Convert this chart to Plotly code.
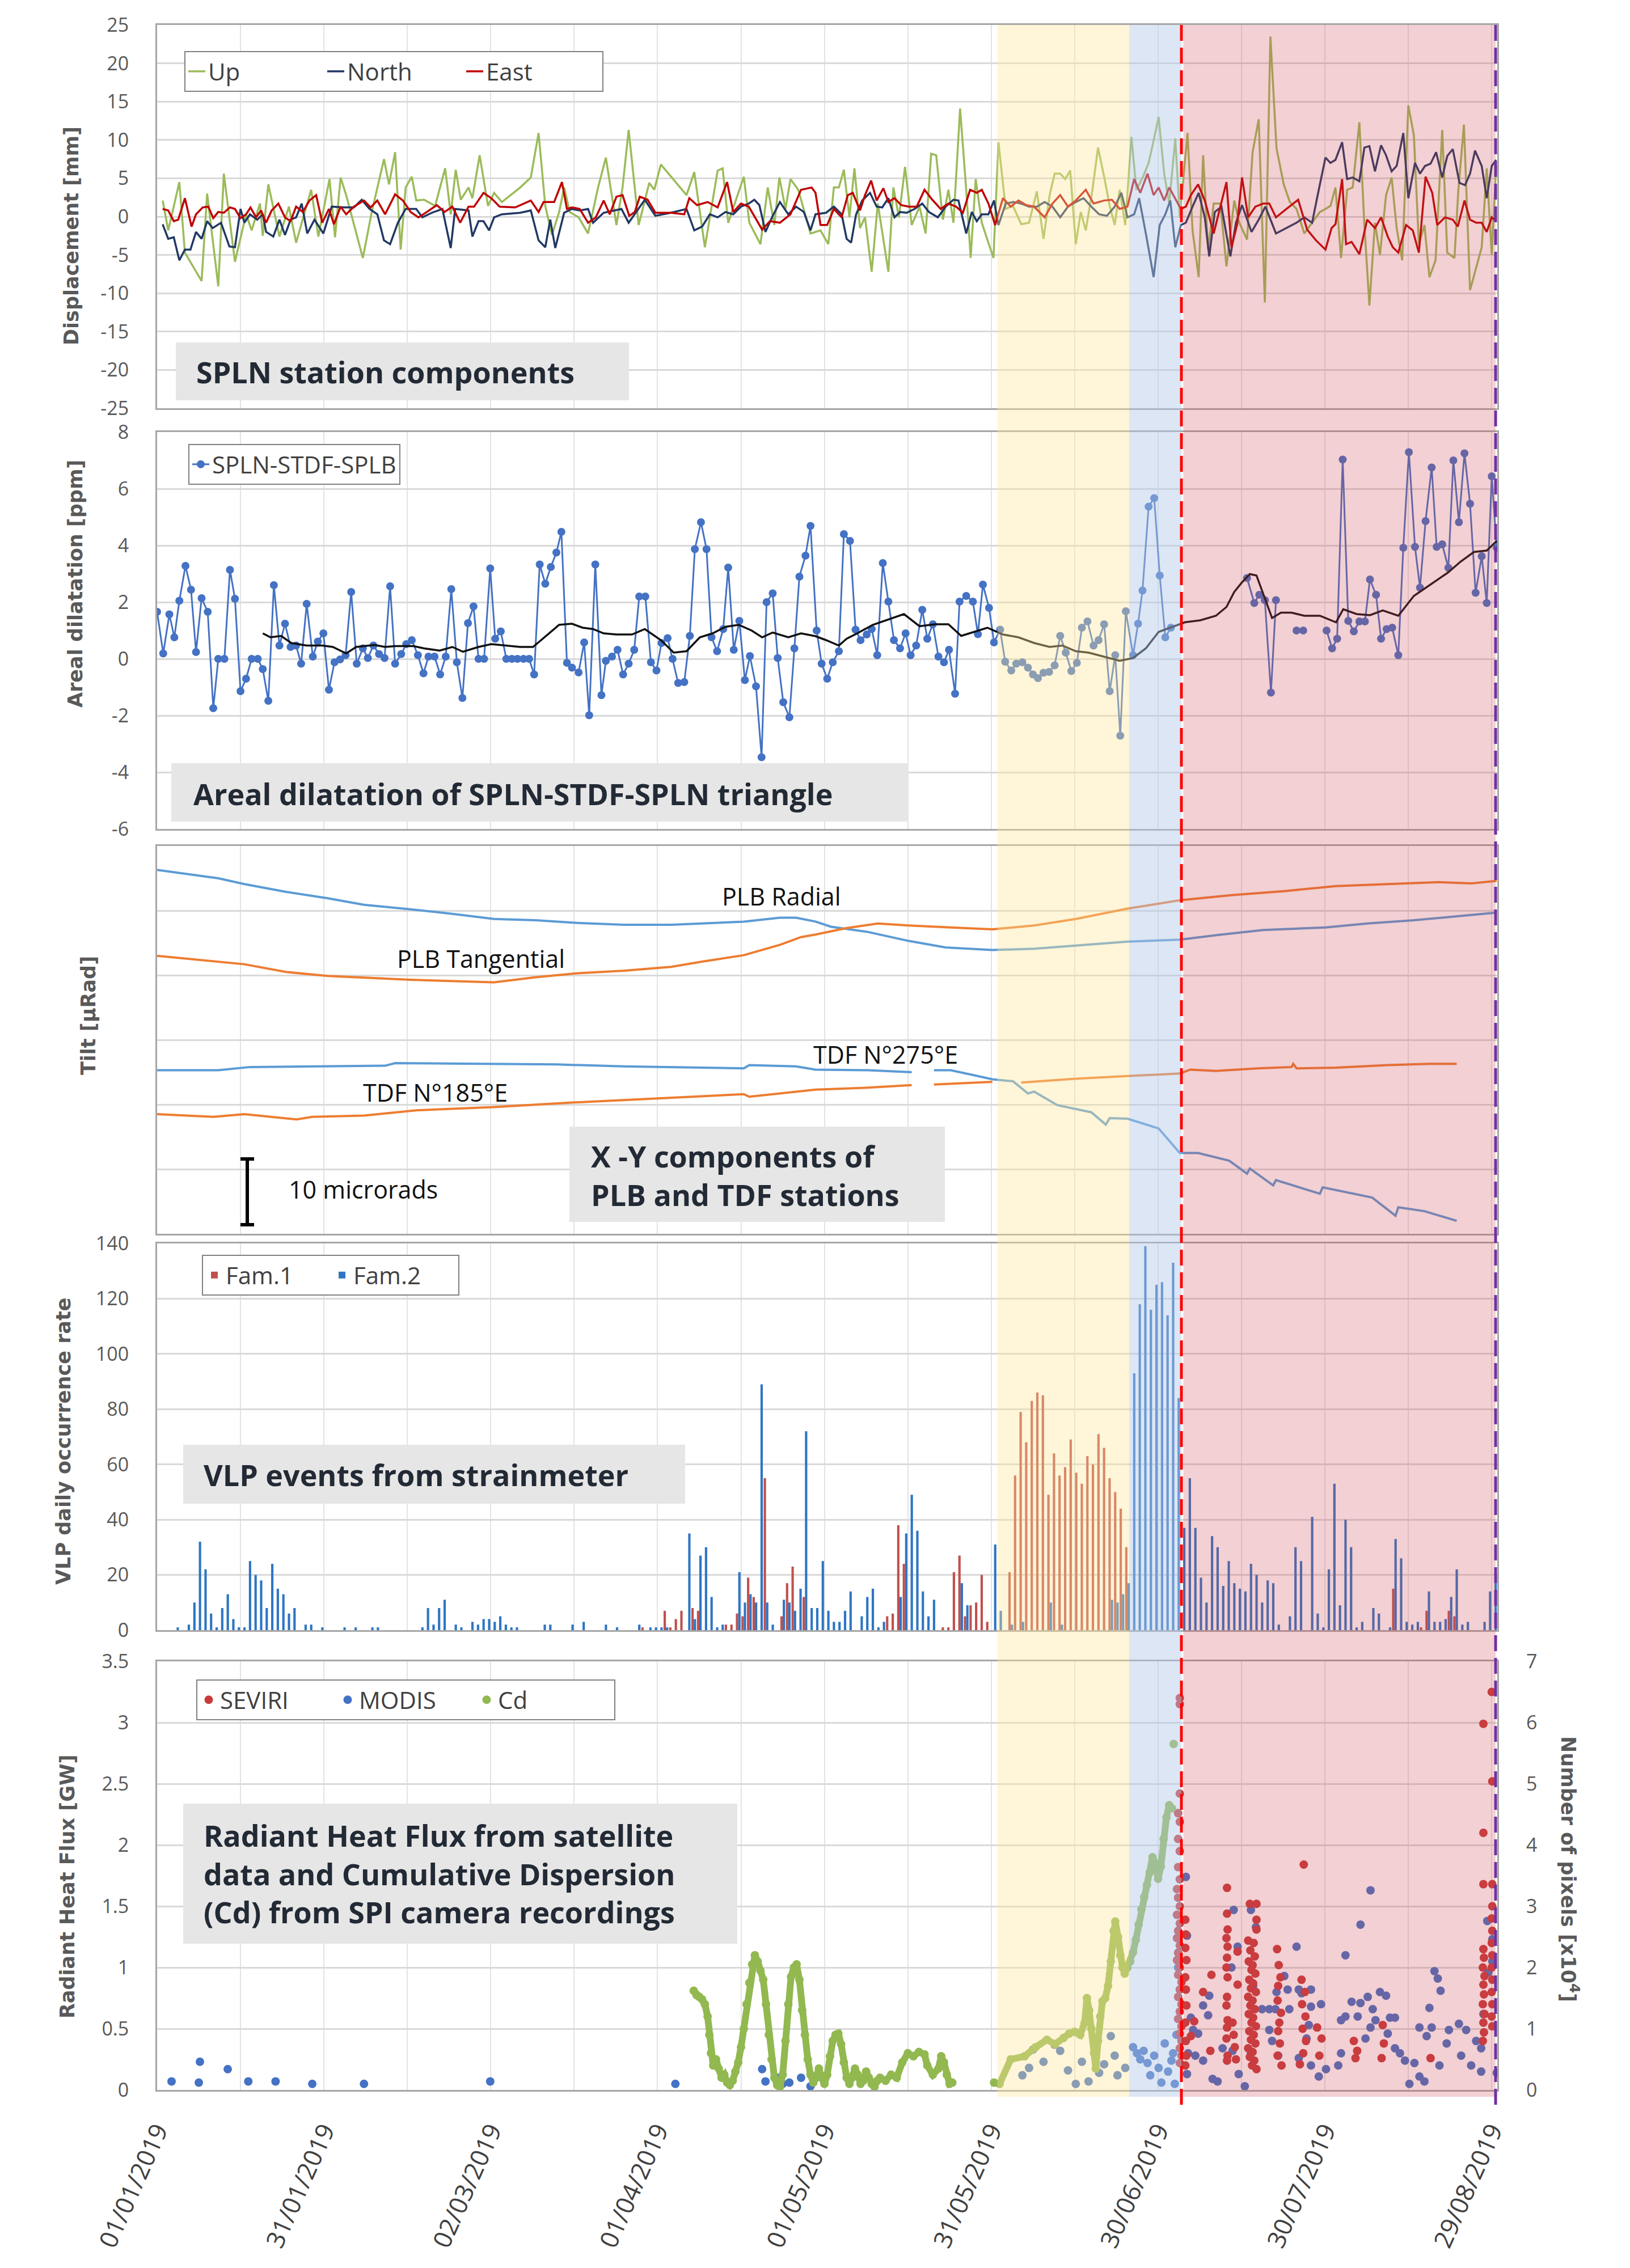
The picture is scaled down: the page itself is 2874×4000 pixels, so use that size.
import pandas as pd
import plotly.graph_objects as go
from plotly.subplots import make_subplots

W, H = 2874, 4000
BASE = pd.Timestamp("2019-01-01")

# ---------------- data (day offsets from 01/01/2019) ----------------
TICK_DAYS = [0, 30, 60, 90, 120, 150, 180, 210, 240]
TICK_LABELS = ["01/01/2019", "31/01/2019", "02/03/2019", "01/04/2019", "01/05/2019",
               "31/05/2019", "30/06/2019", "30/07/2019", "29/08/2019"]
GRID15_DAYS = [15, 45, 75, 105, 135, 165, 195, 225]

# event periods
YELLOW_START, BLUE_START, RED_LINE, RED_START, PURPLE_LINE = 151.1, 174.8, 184.2, 184.55, 240.7

DISP_TICKS = [-25, -20, -15, -10, -5, 0, 5, 10, 15, 20, 25]
DIL_TICKS = [-6, -4, -2, 0, 2, 4, 6, 8]
TILT_GRID = [0, 10, 20, 30, 40, 50, 60]
VLP_TICKS = [0, 20, 40, 60, 80, 100, 120, 140]
RHF_TICKS = [0, 0.5, 1, 1.5, 2, 2.5, 3, 3.5]
RHF_LABELS = ["0", "0.5", "1", "1.5", "2", "2.5", "3", "3.5"]
PIX_TICKS = [0, 1, 2, 3, 4, 5, 6, 7]

UP = [(1,2.1),(2,-1.8),(4,4.5),(5,-4.7),(8,-8.4),(9,3.0),(11,-9.1),(12,5.6),(14,-5.9),(16,0.3),(17,-1.8),(18.5,1.7),(19,-2.5),(20,4.2),(22,-2.6),(23.7,1.3),(25,-3.4),(27.7,3.5),(29,-2.6),(31,4.9),(32,-2.7),(33,5.1),(34,2.8),(37,-5.4),(38.6,0.6),(40.8,7.5),(41.7,4.2),(42.8,8.4),(43.8,-4.3),(44.7,3.8),(45.8,5.2),(46.6,2.1),(48,2.2),(50,1.4),(51.8,6.3),(52.8,0.3),(53.7,6.1),(54.6,2.2),(56,3.8),(56.7,2.4),(58,8.0),(59.5,1.4),(60.6,3.1),(62,1.9),(65.3,3.8),(67.2,5.1),(68.6,10.9),(69.8,1.4),(71,-2.4),(72.3,0.6),(73.2,3.8),(74.2,0.6),(75.8,-0.1),(77.5,-2.2),(79.3,3.8),(80.7,7.7),(82.6,-1.1),(83.7,3.8),(84.8,11.3),(85.7,4.9),(86.6,-1.1),(88.5,4.4),(89.4,3.5),(90.6,6.8),(95.2,2.8),(96.6,5.8),(98.5,-4.0),(100.8,6.0),(101.7,6.3),(102.7,-0.8),(105.5,5.2),(106.5,-0.8),(108.5,-3.6),(109.8,3.8),(111,-1.1),(111.9,5.1),(113,1.0),(113.9,4.9),(115.3,3.5),(117.5,-2.2),(119.3,-1.8),(120.7,-3.6),(121.7,3.8),(122.6,3.8),(123.5,6.1),(124.5,-0.1),(125.4,6.3),(126.4,-1.5),(127.3,-0.1),(128.5,-7.2),(129.6,1.7),(131.5,-7.2),(132.4,3.8),(133.4,-0.1),(134.5,6.5),(135.7,-1.1),(137.1,1.3),(138.2,-2.2),(139.2,8.2),(140.1,8.0),(141.3,-0.4),(142.3,3.5),(143.2,-0.8),(144.4,14.1),(145.5,3.5),(146.3,-5.4),(147.2,4.9),(148.3,-0.8),(150.4,-5.4),(151.3,9.7),(152.6,1.0),(153.9,1.4),(155.4,-1.0),(156.8,-0.8),(158.2,3.3),(159.4,-2.9),(160.5,2.8),(161.4,5.6),(162.4,5.6),(163.3,4.9),(164.2,6.0),(165.2,-3.6),(166.1,0.6),(167,-1.8),(168.2,3.5),(169.2,9.0),(170.3,5.2),(171.3,1.4),(172.2,-1.1),(173.1,3.5),(174.1,-1.1),(175.2,10.4),(176.1,3.5),(177.3,5.2),(178.3,7.0),(179.2,9.9),(180.1,13.0),(181.1,5.6),(182,1.7),(183.1,10.2),(183.9,-0.1),(185.3,10.9),(186.2,-1.8),(187.3,-7.9),(188.1,8.0),(189,-4.3),(190,1.7),(191.2,1.7),(192.3,-6.5),(193.7,2.1),(194.6,-0.8),(196,-3.0),(197,8.4),(198.1,12.7),(199.2,-11.2),(200.2,23.5),(201.3,8.9),(202.6,4.2),(203.7,1.9),(204.9,1.0),(206.3,-2.2),(207.7,-0.8),(209.1,0.6),(210.1,1.0),(211,1.4),(211.9,3.8),(212.9,-5.4),(214,3.5),(215,3.8),(216.2,12.3),(217.1,-1.1),(218,-11.6),(219,-0.8),(219.9,-5.0),(221,2.8),(222,5.1),(222.9,-1.5),(223.9,-5.7),(225,14.5),(226,10.6),(226.9,-3.6),(227.9,-1.1),(228.8,-7.9),(229.9,-5.7),(231.1,11.3),(232,-4.7),(233.3,-5.4),(234,3.5),(235,12.0),(236.1,-9.6),(237,-7.2),(238.2,-4.0),(239.1,6.3),(240,-5.0),(240.8,6.6)]

NORTH = [(1,-1.0),(2,-2.9),(3,-2.7),(4,-5.7),(5,-4.3),(6,-4.3),(7,-2.0),(8,-2.9),(9,-0.6),(10,-1.5),(11.5,-0.8),(13,-3.9),(14,-4.0),(15,1.0),(15.7,-0.8),(16.7,0.3),(18,-0.4),(19,0.3),(19.6,-2.0),(20.9,-2.6),(22,-0.4),(23,-2.4),(24,-0.4),(25,-0.1),(26,1.7),(27,-2.2),(28.3,-0.4),(29.9,-2.2),(31.4,1.3),(33.5,1.2),(35.4,1.2),(36.8,2.2),(38.2,1.0),(39.6,0.3),(40.8,-3.1),(41.9,-3.6),(43.3,-0.8),(44.7,1.0),(46.6,1.0),(47.7,-0.1),(49.4,0.5),(51.3,1.0),(52.8,-4.1),(53.6,1.0),(56,0.8),(56.7,-2.6),(57.8,-0.6),(58.7,-0.6),(59.7,-1.8),(60.6,-0.1),(62,0.3),(65.3,0.5),(67.2,0.8),(68.6,-3.1),(69.8,-4.0),(70.7,-0.4),(71.6,-4.1),(73.2,0.5),(74.6,1.0),(76,0.8),(77.5,1.0),(78.4,-0.8),(80.3,0.5),(82.1,0.8),(83.5,1.0),(84.8,-0.8),(85.9,0.3),(87.7,2.2),(89.6,0.1),(92.4,0.5),(95.2,1.0),(96.6,-1.8),(98,-1.3),(99.4,0.3),(100.8,-0.1),(102.2,0.6),(103.6,0.3),(105,1.3),(106.4,1.7),(107.4,2.2),(108.3,1.5),(109.4,-2.0),(110.7,0.1),(112,1.9),(113.5,0.3),(114.9,1.3),(116.3,0.6),(117.5,-1.8),(118.4,0.3),(120.3,0.5),(121.7,1.3),(123.1,0.3),(124,-2.9),(124.8,-3.4),(125.7,0.3),(126.8,2.1),(128.2,3.1),(129.4,1.3),(130.4,1.2),(131.5,2.4),(132.6,-0.1),(133.6,0.6),(134.8,0.5),(136.2,1.0),(137.6,1.7),(138.8,0.6),(140.4,-0.1),(141.8,1.3),(143.2,2.2),(144.1,2.1),(145.5,-2.2),(146.5,0.6),(147.4,-0.6),(148.3,0.3),(149.5,0.3),(150.5,2.1),(151.3,-1.1),(152.6,1.7),(154,1.9),(155.4,1.7),(156.8,1.3),(158.2,1.3),(159.6,1.9),(161,1.3),(162.4,-0.1),(163.8,1.3),(165.2,1.9),(166.6,2.4),(168,1.3),(169.4,0.3),(170.8,0.1),(172.2,1.3),(173.4,3.1),(174.5,-0.1),(175.7,0.3),(176.6,2.4),(177.8,-2.2),(179.2,-7.9),(180.3,-1.1),(181.3,0.3),(182.2,2.1),(183.1,-4.0),(184.1,-1.1),(185,-0.8),(186.2,1.3),(187.3,3.1),(188.4,-0.1),(189.2,-5.2),(190.2,0.6),(191.4,1.3),(193,-5.2),(194,-0.8),(195.1,1.5),(196.8,-2.0),(198.1,-0.4),(199.3,1.3),(201.2,-2.2),(203.1,-1.5),(204.9,-0.8),(206.3,-0.1),(207.7,-0.8),(208.7,2.8),(210.1,7.7),(211,7.0),(211.9,7.4),(213.1,9.7),(214,4.9),(215,5.1),(216.2,4.6),(217.1,9.0),(218,9.2),(219,5.9),(220.1,9.3),(221,8.0),(222,5.9),(222.9,6.6),(224.1,10.9),(225,2.4),(226.2,7.0),(227.1,5.6),(228,6.6),(229,6.9),(230,8.4),(231.1,5.1),(232,7.9),(233,8.8),(234.2,4.4),(235.2,4.1),(236.1,5.6),(237,8.6),(238.2,6.6),(239.1,2.4),(240,6.6),(240.8,7.4)]

EAST = [(1,1.0),(2,0.8),(3,-0.6),(3.8,-0.4),(5,2.4),(6.2,-1.3),(7,0.3),(8.2,1.2),(9.2,1.3),(10.1,-0.2),(11,0.6),(12,0.5),(13.1,1.2),(14,1.0),(15,-0.2),(16,0.3),(16.8,1.2),(17.8,-0.1),(18.7,0.8),(19.6,-0.8),(20.6,0.8),(21.8,1.7),(23,-0.1),(24,-0.6),(25,1.3),(26.2,0.6),(27.4,2.1),(28.6,2.8),(29.7,-0.8),(30.9,1.0),(31.8,-1.0),(33,1.3),(34,0.3),(35.4,1.3),(37.2,2.1),(38.4,1.2),(39.6,2.1),(41,0.3),(42.8,2.9),(44.2,2.1),(45.6,0.6),(47,-0.1),(48.5,0.6),(50.3,1.5),(51.7,0.6),(53.1,1.3),(54.5,-0.8),(56,1.3),(57,1.3),(58.7,3.1),(60.1,2.4),(61.6,1.3),(64.4,1.2),(67.2,2.1),(68.6,0.6),(69.5,1.9),(71.4,1.9),(72.8,4.5),(73.7,1.0),(74.6,1.2),(76,1.0),(77.5,-0.8),(78.9,-0.1),(80.3,2.1),(81.4,0.3),(82.6,2.6),(83.7,2.8),(84.9,0.1),(85.9,0.6),(86.8,2.6),(88.2,2.2),(89.6,0.5),(92.4,0.5),(94.8,0.3),(95.7,2.4),(97.1,1.5),(99,1.9),(100.8,1.2),(102.5,4.5),(103.6,0.6),(105,1.7),(106.4,1.3),(108.8,-1.7),(110.2,-0.6),(112,-0.8),(113.9,0.3),(115.8,3.5),(117.7,3.8),(118.4,3.1),(119.3,-1.1),(120.5,-1.1),(121.7,1.0),(123.1,-0.1),(124.2,2.8),(125.1,3.1),(126.4,0.8),(127.3,2.8),(128.4,4.7),(129.4,2.1),(130.6,3.7),(131.5,1.9),(132.6,2.4),(133.8,1.5),(135.2,1.3),(136.6,1.3),(138,3.5),(139.4,2.2),(140.9,1.0),(142.3,1.7),(143.7,1.3),(144.9,0.5),(146.2,3.5),(147.4,3.1),(148.3,3.5),(149.5,1.7),(150.7,-1.1),(152.1,2.4),(153.5,1.3),(154.9,2.1),(156.3,1.5),(157.7,1.3),(159.6,-0.1),(161,1.7),(162.4,2.8),(163.8,1.3),(165.2,2.1),(167,3.5),(168.4,1.7),(170.3,2.1),(171.7,2.2),(173.1,1.0),(174.5,1.3),(175.7,4.9),(176.8,3.1),(178.1,5.6),(179.2,2.8),(180.1,3.8),(181.1,2.1),(182,3.8),(183.1,2.4),(184.1,1.0),(185,1.3),(185.9,2.8),(187.2,4.2),(188.4,2.1),(190,-2.2),(191.2,1.3),(192.3,4.5),(193.2,-4.0),(194.2,-1.1),(195.1,5.1),(196.2,-0.1),(197.5,1.3),(198.9,1.7),(200,1.7),(201.2,-0.1),(203.1,1.0),(205.2,2.2),(206.8,-1.7),(208.4,-3.1),(210.1,-4.3),(211.2,-1.5),(211.9,-1.0),(213.1,4.9),(213.8,-3.6),(214.8,-3.3),(216.2,-4.9),(217.6,-0.4),(219,-1.5),(220.1,-0.1),(221.3,-2.6),(222.2,-4.0),(223.2,-4.7),(224.6,-1.1),(225.8,-1.8),(226.9,-4.7),(228.1,5.2),(229.3,3.1),(230.2,-1.1),(231.6,-0.1),(233,-0.4),(233.9,-1.3),(235.1,2.1),(236.1,-0.4),(237.2,-0.8),(238.2,-0.8),(239.1,-2.0),(240,-0.1),(240.8,-0.6)]

DIL = [(0,1.66),(1.1,0.19),(2.2,1.57),(3.1,0.76),(4,2.05),(5.1,3.28),(6.1,2.44),(7,0.24),(8,2.14),(9.1,1.66),(10.1,-1.74),(11,0),(12.1,0),(13.1,3.14),(14,2.12),(15,-1.14),(16,-0.7),(17,0),(18.1,0),(19,-0.36),(20,-1.48),(21,2.6),(22,0.47),(23,1.24),(24,0.42),(25,0.47),(25.9,-0.17),(26.9,1.94),(28,0.08),(28.9,0.61),(29.9,0.9),(30.9,-1.09),(31.9,-0.12),(32.9,-0.02),(33.9,0.13),(34.9,2.36),(35.9,-0.17),(37,0.37),(37.9,0.03),(38.9,0.47),(39.9,0.17),(40.9,0.03),(41.9,2.56),(42.8,-0.17),(43.9,0.17),(44.8,0.52),(45.8,0.66),(46.9,0.13),(47.9,-0.51),(48.8,0.08),(49.9,0.08),(50.9,-0.55),(51.9,0.08),(52.9,2.46),(53.9,-0.12),(54.9,-1.38),(55.9,1.26),(56.9,1.85),(57.8,0),(58.8,0),(59.9,3.19),(60.8,0.71),(61.8,0.97),(62.8,0),(63.8,0),(64.8,0),(65.9,0),(66.9,0),(67.8,-0.55),(68.8,3.33),(69.8,2.65),(70.8,3.24),(71.8,3.75),(72.7,4.48),(73.7,-0.14),(74.6,-0.31),(75.8,-0.48),(76.8,0.58),(77.7,-1.99),(78.8,3.33),(79.9,-1.28),(80.7,-0.07),(81.8,0.08),(82.8,0.32),(83.8,-0.55),(84.8,-0.17),(85.8,0.32),(86.7,2.2),(87.8,2.2),(88.8,-0.12),(89.8,-0.41),(90.7,0.56),(91.8,0.73),(92.7,0),(93.7,-0.85),(94.8,-0.82),(95.8,0.81),(96.7,3.87),(97.8,4.82),(98.8,3.87),(99.7,0.76),(100.7,0.27),(101.8,1.05),(102.7,3.22),(103.7,0.32),(104.7,1.34),(105.7,-0.75),(106.6,0.1),(107.7,-0.97),(108.7,-3.47),(109.6,2.0),(110.7,2.31),(111.6,0.03),(112.6,-1.53),(113.7,-2.06),(114.6,0.37),(115.5,2.9),(116.6,3.64),(117.5,4.69),(118.6,1.0),(119.5,-0.17),(120.5,-0.7),(121.5,-0.12),(122.6,0.27),(123.5,4.4),(124.6,4.16),(125.6,1.03),(126.5,0.66),(127.6,0.86),(128.5,1.05),(129.5,0.13),(130.5,3.38),(131.5,2.02),(132.5,0.66),(133.6,0.37),(134.6,0.9),(135.5,0.13),(136.5,0.47),(137.6,1.73),(138.5,0.71),(139.5,1.22),(140.5,0.08),(141.5,-0.12),(142.4,0.32),(143.5,-1.23),(144.3,2.02),(145.5,2.22),(146.7,2.02),(147.6,0.87),(148.5,2.62),(149.6,1.8),(150.5,0.58),(151.6,1.03),(152.5,-0.1),(153.6,-0.41),(154.5,-0.17),(155.6,-0.12),(156.6,-0.31),(157.5,-0.55),(158.4,-0.68),(159.4,-0.49),(160.4,-0.46),(161.4,-0.23),(162.4,0.81),(163.4,0.22),(164.4,-0.43),(165.4,-0.14),(166.3,1.1),(167.3,1.32),(168.4,0.47),(169.3,0.66),(170.3,1.22),(171.3,-1.14),(172.3,0.13),(173.2,-2.71),(174.2,1.68),(175.5,0.13),(176.4,1.24),(177.2,2.41),(178.3,5.37),(179.3,5.67),(180.3,2.94),(181.3,0.76),(182.3,1.1),(189,None),(196,2.85),(197.3,1.97),(198.2,2.26),(199.2,2.07),(200.3,-1.19),(201.2,2.07),(203,None),(204.9,1.0),(206.1,1.0),(208,None),(210.3,1.0),(211.3,0.37),(212.2,0.71),(213.2,7.03),(214.2,1.34),(215.2,0.97),(216.2,1.32),(217.2,1.32),(218.1,2.8),(219.2,2.26),(220.1,0.71),(221.1,1.05),(222.1,1.1),(223.2,0.13),(224.1,3.92),(225.1,7.29),(226.2,3.95),(227.1,2.51),(228.1,4.86),(229.2,6.75),(230.1,3.95),(231.1,4.04),(232.2,3.21),(233.1,7.0),(234.1,4.82),(235.1,7.25),(236.1,5.47),(237.1,2.33),(238.2,3.62),(239.1,1.97),(240,6.44),(240.9,3.92)]

DIL_MA = [(19,0.9),(20.4,0.76),(22.3,0.81),(24.1,0.56),(26.9,0.47),(29.7,0.47),(31.6,0.42),(34,0.19),(35.8,0.42),(39.1,0.49),(41,0.42),(42.8,0.45),(46.1,0.45),(48,0.37),(50.8,0.29),(53.1,0.42),(55,0.25),(57.8,0.42),(60.1,0.52),(62.9,0.47),(65.3,0.42),(67.6,0.42),(70,0.81),(72.3,1.2),(74.6,1.24),(76.5,1.1),(78.4,1.05),(80.3,0.9),(82.6,0.86),(85.4,0.86),(87.7,1.05),(90.6,0.66),(92.9,0.22),(95.2,0.27),(97.6,0.76),(99.9,0.9),(102.2,1.13),(104.6,1.2),(106.9,1.0),(108.8,0.76),(110.7,0.93),(113.5,0.76),(115.8,0.9),(118.4,0.8),(120.3,0.66),(122.6,0.47),(124,0.71),(125.9,0.9),(128.7,1.2),(131.5,1.39),(134.3,1.58),(137.1,1.15),(139.9,1.22),(142.3,1.22),(144.6,0.81),(146.9,0.95),(149.3,1.1),(152.1,0.86),(154.9,0.76),(157.7,0.56),(160.5,0.42),(162.8,0.47),(165.2,0.27),(167.5,0.22),(170.3,0.08),(173.1,-0.07),(175.5,0.03),(177.8,0.37),(180.1,0.95),(182.5,1.13),(184.8,1.29),(187.6,1.36),(190.4,1.52),(192.3,1.83),(193.7,2.36),(195.1,2.7),(196.5,2.99),(197.7,2.94),(199,2.22),(200.5,1.44),(202.1,1.63),(204,1.63),(206.3,1.52),(209.1,1.52),(212,1.29),(213.3,1.75),(215.7,1.58),(218.1,1.54),(220.4,1.71),(223.2,1.52),(226,2.22),(228.8,2.6),(232.1,3.04),(234.4,3.43),(236.8,3.77),(239.1,3.82),(240.9,4.16)]

# tilt (relative microradians, 10 per grid step)
PLB_RADIAL = [(0,56.3),(11,55.0),(15.7,54.1),(23.2,52.9),(30.7,51.9),(37.2,50.9),(45.6,50.2),(53.1,49.5),(60.6,48.7),(68.1,48.5),(75.6,48.1),(84,47.8),(92.4,47.8),(98,48.0),(105.5,48.3),(112,48.9),(114.9,48.9),(118.4,48.3),(121.2,47.5),(127.8,46.7),(135.2,45.3),(141.8,44.3),(150.2,43.9),(157.7,44.1),(165.2,44.6),(174.5,45.2),(183.9,45.5),(191.4,46.3),(198.9,47.0),(210.1,47.4),(217.6,48.0),(226,48.5),(233.5,49.1),(240.9,49.7)]
PLB_TANGENTIAL = [(0,43.0),(11,42.1),(15.7,41.7),(23.2,40.5),(30.7,39.9),(45.6,39.3),(53.1,39.1),(60.6,38.9),(68.1,39.7),(75.6,40.3),(84,40.7),(92.4,41.3),(98,42.1),(105.5,43.1),(112,44.7),(115.8,45.9),(118.4,46.3),(124,47.3),(129.6,48.0),(135.2,47.7),(142.7,47.4),(150.2,47.1),(157.7,47.7),(165.2,48.7),(174.5,50.3),(183.9,51.6),(193.2,52.4),(202.6,53.0),(212,53.8),(221.3,54.1),(230.7,54.4),(236.3,54.2),(240.9,54.6)]
TDF_275 = [(0,25.3),(11,25.3),(16.7,25.8),(27.9,25.9),(41,26.0),(42.8,26.4),(60.6,26.3),(71.8,26.2),(84,25.9),(105.5,25.6),(106.5,26.1),(114.9,25.9),(118.4,25.4),(127.8,25.3),(135.7,25.0),(137.7,None),(139.7,25.3),(142.7,25.3),(146.5,24.6),(150.2,23.9),(153.9,23.6),(156.6,21.7),(157.7,22.0),(161.9,19.9),(168,18.8),(170.6,16.9),(171.3,17.9),(174.5,17.8),(180.1,16.3),(183.9,12.5),(187.2,12.5),(192.8,11.3),(196,9.3),(196.5,10.1),(200.7,7.5),(201.2,8.3),(209.1,6.2),(209.6,7.2),(218.5,5.6),(222.7,2.8),(223.2,4.1),(227.9,3.5),(233.7,2.0)]
TDF_185 = [(0,18.5),(10.1,18.1),(15.7,18.5),(25.1,17.7),(27.9,18.1),(37.2,18.3),(46.6,19.1),(60.6,19.6),(74.6,20.3),(84,20.7),(93.4,21.1),(105.5,21.6),(106.5,21.2),(118.4,22.3),(127.8,22.6),(135.7,23.0),(137.7,None),(139.7,23.1),(150.2,23.5),(152.8,None),(155.4,23.4),(165.2,24.0),(174.5,24.4),(183.9,24.8),(185.8,25.4),(190.4,25.2),(197.9,25.6),(204,25.8),(204.3,26.3),(204.9,25.6),(212,25.7),(221.3,26.1),(228.8,26.3),(233.7,26.3)]

# VLP daily counts (day index, count)
FAM1 = [(87,1),(91,7),(92,1),(93,4),(94,7),(96,8),(97,7),(102,2),(103,2),(104,6),(105,5),(106,19),(107,12),(109,55),(112,5),(113,17),(114,23),(116,12),(131,5),(132,6),(133,38),(134,24),(141,1),(142,1),(143,21),(144,27),(145,5),(146,9),(147,10),(148,20),(149,3),(153,21),(154,56),(155,79),(156,68),(157,83),(158,86),(159,85),(160,49),(161,64),(162,56),(163,59),(164,69),(165,57),(166,53),(167,63),(168,60),(169,71),(170,66),(171,55),(172,50),(173,44),(174,30),(222,15),(227,1),(228,7),(232,7),(233,5)]
FAM2 = [(3,1),(5,2),(6,10),(7,32),(8,22),(9,6),(10,1),(11,8),(12,13),(13,4),(14,1),(15,1),(16,25),(17,20),(18,18),(19,8),(20,24),(21,15),(22,13),(23,6),(24,8),(26,2),(27,2),(29,1),(33,1),(35,1),(38,1),(39,1),(47,1),(48,8),(49,2),(50,8),(51,11),(53,2),(54,1),(56,3),(57,2),(58,4),(59,4),(60,3),(61,5),(62,2),(63,1),(64,1),(69,2),(70,2),(74,2),(76,3),(80,2),(82,1),(86,2),(88,1),(89,1),(90,1),(91,1),(95,35),(96,4),(97,27),(98,30),(99,12),(100,1),(101,2),(104,21),(105,10),(106,13),(107,10),(108,89),(109,10),(110,2),(112,11),(113,10),(114,7),(115,15),(116,72),(117,8),(118,8),(119,25),(120,7),(121,3),(122,3),(123,7),(124,14),(126,5),(127,12),(128,15),(129,1),(130,3),(133,12),(134,35),(135,49),(136,36),(137,14),(138,5),(139,11),(144,17),(145,9),(150,31),(151,7),(153,2),(155,3),(160,10),(162,2),(171,11),(172,10),(173,13),(174,17),(175,93),(176,118),(177,139),(178,116),(179,125),(180,126),(181,114),(182,133),(183,84),(184,37),(185,55),(186,37),(187,19),(188,10),(189,34),(190,30),(191,16),(192,25),(193,17),(194,15),(195,14),(196,24),(197,20),(198,10),(199,18),(200,17),(201,2),(203,5),(204,30),(205,25),(207,41),(208,6),(209,1),(210,22),(211,53),(212,9),(213,40),(214,30),(215,1),(216,3),(218,8),(219,6),(221,1),(222,33),(223,26),(224,3),(225,2),(226,3),(228,14),(229,3),(230,3),(231,4),(232,12),(233,22),(234,2),(235,3),(238,3),(239,14),(240,20),(241,1)]

# Radiant heat flux [GW]
SEVIRI = [(183.9,3.20),(183.9,3.15),(183.9,2.42),(183.6,2.26),(183.9,2.19),(183.6,2.05),(183.9,1.95),(183.6,1.82),(183.9,1.72),(183.4,1.64),(183.6,1.57),(183.9,1.50),(183.4,1.43),(183.9,1.36),(183.6,1.30),(183.4,1.24),(183.9,1.18),(183.6,1.12),(183.4,1.06),(183.9,1.00),(183.6,0.94),(184.2,0.88),(183.9,0.82),(183.6,0.76),(184.2,0.70),(183.9,0.64),(183.6,0.58),(184.2,0.52),(183.9,0.46),(184.2,0.40),(183.9,0.34),(184.2,0.28),(183.9,0.22),(184.9,1.39),(185.0,1.27),(184.9,1.16),(185.1,1.06),(184.9,0.92),(185.0,0.82),(185.1,0.69),(184.9,0.55),(185.0,0.40),(185.1,0.28),(184.9,0.20),(186.5,0.56),(185.9,0.44),(188.1,0.80),(189.6,0.94),(189.4,0.32),(192.4,1.65),(192.4,1.44),(192.5,1.31),(192.3,1.24),(192.5,1.17),(192.4,1.08),(192.3,1.00),(192.5,0.92),(192.4,0.76),(192.3,0.69),(192.5,0.57),(192.4,0.51),(192.3,0.42),(192.5,0.28),(192.4,0.24),(193.4,0.55),(193.6,0.45),(193.8,0.35),(194.3,1.13),(194.3,0.86),(194.0,0.25),(196.5,1.52),(197.7,1.52),(197.7,1.39),(197.7,1.31),(196.2,1.22),(197.2,1.20),(196.6,1.14),(197.4,1.09),(196.3,1.05),(197.0,1.02),(196.8,0.98),(197.5,0.95),(196.4,0.90),(197.1,0.87),(196.7,0.83),(197.6,0.80),(196.2,0.76),(197.0,0.73),(196.6,0.69),(197.4,0.66),(196.3,0.62),(197.1,0.59),(196.8,0.55),(197.6,0.52),(196.4,0.48),(197.2,0.45),(196.7,0.41),(197.5,0.38),(196.2,0.34),(197.0,0.31),(196.5,0.27),(197.3,0.24),(196.9,0.20),(197.7,0.17),(201.4,1.15),(201.7,1.02),(202.0,0.92),(201.6,0.85),(201.5,0.73),(202.1,0.63),(201.8,0.55),(201.6,0.48),(201.9,0.38),(201.5,0.28),(202.2,0.20),(206.2,1.84),(205.8,0.90),(206.4,0.80),(205.9,0.70),(206.5,0.60),(206.0,0.50),(206.6,0.40),(206.1,0.30),(205.5,0.21),(208.6,0.51),(209.4,0.42),(209.0,0.28),(215.2,0.40),(215.8,0.32),(215.5,0.26),(220.4,0.53),(220.6,0.38),(220.2,0.26),(229.0,0.26),(238.5,2.99),(238.5,2.10),(238.5,1.68),(238.5,1.15),(238.6,1.08),(238.4,1.00),(238.7,0.93),(238.5,0.86),(238.6,0.78),(238.4,0.70),(238.7,0.62),(238.5,0.55),(238.6,0.47),(238.4,0.40),(240.0,3.25),(240.1,2.52),(240.1,1.68),(240.1,1.50),(240.0,1.40),(240.1,1.30),(240.0,1.20),(240.1,1.10),(240.0,1.00),(240.1,0.90),(240.0,0.80),(240.1,0.70),(240.0,0.60),(240.1,0.52)]
MODIS = [(2.6,0.07),(7.5,0.06),(7.7,0.23),(12.7,0.17),(16.4,0.07),(21.3,0.07),(27.9,0.05),(37.2,0.05),(59.9,0.07),(93.2,0.05),(108.8,0.17),(109.4,0.07),(111.5,0.10),(112.5,0.05),(113.7,0.06),(115.8,0.10),(117.5,0.03),(155.6,0.12),(156.8,0.18),(157.5,0.33),(159.4,0.23),(161.4,0.37),(162.4,0.32),(163.8,0.16),(165.2,0.05),(166.3,0.23),(167.5,0.07),(169.4,0.14),(170.3,0.21),(171.5,0.44),(172.2,0.28),(172.7,0.12),(174.1,0.18),(175.5,0.35),(176.2,0.30),(176.8,0.25),(177.4,0.32),(178.1,0.22),(178.6,0.12),(179.3,0.28),(180.1,0.18),(180.6,0.06),(181.2,0.38),(181.8,0.15),(182.4,0.24),(182.7,0.30),(183.0,0.05),(183.3,0.45),(183.6,1.00),(185.0,1.74),(185.2,1.26),(185.9,0.59),(186.3,0.49),(187.2,0.46),(185.4,0.30),(186.7,0.28),(188.1,0.24),(185.2,0.13),(189.2,0.77),(188.1,0.69),(189.0,0.61),(189.8,0.09),(190.7,0.07),(191.6,0.34),(193.2,1.00),(193.6,1.47),(194.3,1.17),(193.4,0.32),(194.5,0.13),(195.6,0.03),(196.7,1.47),(197.6,1.33),(197.1,0.85),(196.7,0.30),(198.7,0.66),(200.0,0.66),(201.1,0.66),(200.0,0.49),(200.5,0.40),(201.3,0.80),(201.6,0.28),(202.7,0.93),(203.3,0.82),(203.6,0.66),(204.9,1.17),(205.3,0.82),(205.8,0.79),(207.5,0.82),(207.5,0.68),(209.3,0.70),(207.1,0.53),(206.7,0.42),(205.3,0.26),(207.5,0.20),(208.9,0.11),(210.2,0.17),(212.4,0.20),(212.9,0.30),(212.9,0.57),(213.7,1.10),(213.7,0.60),(214.8,0.72),(216.4,1.35),(216.4,0.71),(215.9,0.60),(217.7,0.76),(218.2,1.63),(218.6,0.66),(219.1,0.57),(217.3,0.42),(218.2,0.51),(219.9,0.80),(221.0,0.77),(221.7,0.59),(222.6,0.59),(221.3,0.46),(222.6,0.34),(223.5,0.30),(224.4,0.24),(225.2,0.05),(227.0,0.11),(227.9,0.07),(226.1,0.22),(227.0,0.51),(228.8,0.67),(229.7,0.97),(230.3,0.91),(230.8,0.81),(229.2,0.51),(228.3,0.44),(230.6,0.20),(231.9,0.38),(232.3,0.49),(234.1,0.54),(235.4,0.49),(234.5,0.28),(236.3,0.20),(237.2,0.40),(238.1,0.34),(238.1,0.15),(238.5,0.62),(239.2,1.38),(239.4,0.96),(240.1,1.23),(240.1,1.05),(240.9,0.14)]
# cumulative dispersion, number of pixels [x10^4]
CD = [(96.5,1.62),(97.0,1.55),(97.5,1.52),(98.0,1.48),(98.5,1.40),(99.0,1.20),(99.3,0.90),(99.6,0.60),(100.0,0.40),(100.5,0.50),(101.0,0.35),(101.5,0.20),(102.0,0.25),(102.5,0.12),(103.0,0.08),(103.5,0.15),(104.0,0.30),(104.5,0.45),(105.0,0.70),(105.5,1.00),(106.0,1.40),(106.5,1.75),(107.0,2.05),(107.5,2.20),(108.0,2.10),(108.5,1.95),(109.0,1.80),(109.5,1.40),(110.0,0.90),(110.5,0.50),(111.0,0.20),(111.5,0.08),(112.0,0.05),(112.5,0.25),(113.0,0.80),(113.5,1.40),(114.0,1.85),(114.5,2.00),(115.0,2.05),(115.5,1.80),(116.0,1.30),(116.5,0.90),(117.0,0.50),(117.5,0.25),(118.0,0.12),(118.5,0.20),(119.0,0.35),(119.5,0.20),(120.0,0.10),(120.5,0.25),(121.0,0.55),(121.5,0.80),(122.0,0.90),(122.5,0.92),(123.0,0.75),(123.5,0.45),(124.0,0.20),(124.5,0.10),(125.0,0.20),(125.5,0.35),(126.0,0.25),(126.5,0.10),(127.0,0.15),(127.5,0.30),(128.0,0.20),(128.5,0.10),(129.0,0.05),(129.5,0.15),(130.0,0.20),(131.0,0.15),(132.0,0.25),(133.0,0.20),(134.0,0.45),(135.0,0.60),(136.0,0.55),(137.0,0.62),(138.0,0.58),(138.5,0.40),(139.5,0.25),(140.5,0.35),(141.0,0.55),(141.5,0.45),(142.0,0.25),(142.5,0.10),(143.0,0.12),(147.0,None),(150.5,0.12),(151.5,0.10),(153.5,0.50),(156.0,0.55),(158.0,0.70),(160.0,0.82),(161.5,0.75),(163.0,0.85),(164.0,0.92),(165.0,0.95),(166.0,0.90),(166.8,1.10),(167.2,1.50),(167.6,1.30),(168.0,1.00),(168.5,0.60),(168.8,0.35),(169.2,0.80),(169.6,1.20),(170.0,1.45),(170.5,1.50),(171.0,1.70),(171.5,2.10),(172.0,2.60),(172.3,2.75),(172.8,2.50),(173.2,2.20),(173.6,2.00),(174.0,1.90),(174.5,2.00),(175.0,2.10),(175.5,2.25),(176.0,2.45),(176.5,2.70),(177.0,2.95),(177.5,3.15),(178.0,3.35),(178.5,3.55),(179.0,3.80),(179.5,3.70),(180.0,3.45),(180.5,3.65),(181.0,4.10),(181.5,4.45),(182.0,4.65),(182.5,4.60),(182.65,None),(182.8,5.65)]

# ---------------- helpers ----------------
def D(d, hours=0.0):
    return BASE + pd.Timedelta(days=d) + pd.Timedelta(hours=hours)

def xs(pts, hours=0.0):
    return [D(p[0], hours) for p in pts]

def ys(pts):
    return [p[1] for p in pts]

def PX(x):
    return x / W

def PY(y):
    return 1 - y / H

# ---------------- figure ----------------
fig = make_subplots(rows=5, cols=1, shared_xaxes=True, vertical_spacing=0.02,
                    specs=[[{}], [{}], [{}], [{}], [{"secondary_y": True}]])

GREEN, NAVY, DRED = "#9BBB59", "#203864", "#C00000"
fig.add_trace(go.Scatter(x=xs(UP), y=ys(UP), mode="lines", name="Up",
                         line=dict(color=GREEN, width=3.5), legend="legend"), row=1, col=1)
fig.add_trace(go.Scatter(x=xs(NORTH), y=ys(NORTH), mode="lines", name="North",
                         line=dict(color=NAVY, width=3.5), legend="legend"), row=1, col=1)
fig.add_trace(go.Scatter(x=xs(EAST), y=ys(EAST), mode="lines", name="East",
                         line=dict(color=DRED, width=3.5), legend="legend"), row=1, col=1)

fig.add_trace(go.Scatter(x=xs(DIL), y=ys(DIL), mode="lines+markers", name="SPLN-STDF-SPLB",
                         line=dict(color="#4472C4", width=3), marker=dict(color="#4472C4", size=14),
                         legend="legend2"), row=2, col=1)
fig.add_trace(go.Scatter(x=xs(DIL_MA), y=ys(DIL_MA), mode="lines", showlegend=False,
                         line=dict(color="#111111", width=3.5)), row=2, col=1)

BLUE_T, ORANGE_T = "#5B9BD5", "#ED7D31"
for pts, col in [(PLB_RADIAL, BLUE_T), (PLB_TANGENTIAL, ORANGE_T), (TDF_275, BLUE_T), (TDF_185, ORANGE_T)]:
    fig.add_trace(go.Scatter(x=xs(pts), y=ys(pts), mode="lines", showlegend=False,
                             line=dict(color=col, width=4)), row=3, col=1)

fig.add_trace(go.Bar(x=xs(FAM1, 12), y=ys(FAM1), name="Fam.1", marker=dict(color="#C0504D", line_width=0),
                     legend="legend3"), row=4, col=1)
fig.add_trace(go.Bar(x=xs(FAM2, 12), y=ys(FAM2), name="Fam.2", marker=dict(color="#2E75C4", line_width=0),
                     legend="legend3"), row=4, col=1)

CD_GREEN = "#92B850"
fig.add_trace(go.Scatter(x=xs(CD), y=ys(CD), mode="lines", showlegend=False,
                         line=dict(color=CD_GREEN, width=12)), row=5, col=1, secondary_y=True)
fig.add_trace(go.Scatter(x=xs(CD), y=ys(CD), mode="markers", name="Cd", legendrank=3,
                         marker=dict(color=CD_GREEN, size=15), legend="legend4"), row=5, col=1, secondary_y=True)
fig.add_trace(go.Scatter(x=xs(MODIS), y=ys(MODIS), mode="markers", name="MODIS", legendrank=2,
                         marker=dict(color="#4472C4", size=15), legend="legend4"), row=5, col=1)
fig.add_trace(go.Scatter(x=xs(SEVIRI), y=ys(SEVIRI), mode="markers", name="SEVIRI", legendrank=1,
                         marker=dict(color="#C83A3A", size=15), legend="legend4"), row=5, col=1)

# ---------------- layout ----------------
PANELS = [(44, 720), (762, 1462), (1492, 2176), (2193, 2875), (2930, 3686)]
XD = [PX(277), PX(2640)]
for i, (t, b) in enumerate(PANELS, start=1):
    sfx = "" if i == 1 else str(i)
    fig.layout["yaxis" + sfx].domain = [PY(b), PY(t)]
    fig.layout["xaxis" + sfx].domain = XD

fig.update_xaxes(type="date", range=[D(0), D(241)], tickmode="array",
                 tickvals=[D(d) for d in TICK_DAYS], ticktext=TICK_LABELS,
                 showgrid=True, gridcolor="#E3E3E3", gridwidth=2,
                 minor=dict(tickmode="array", tickvals=[D(d) for d in GRID15_DAYS],
                            showgrid=True, gridcolor="#E3E3E3", gridwidth=2, ticks=""),
                 showline=True, linecolor="#A6A6A6", linewidth=3, mirror=True,
                 ticks="", zeroline=False, showticklabels=False)
fig.update_xaxes(row=5, col=1, showticklabels=True, tickangle=-66,
                 tickfont=dict(family="Open Sans", size=44, color="#404040"), ticklabelstandoff=26)

TICKFONT = dict(family="Open Sans", size=34, color="#595959")
ycommon = dict(showgrid=True, gridcolor="#D9D9D9", gridwidth=3, zeroline=False, showline=True,
               linecolor="#A6A6A6", linewidth=3, mirror=True, ticks="", tickfont=TICKFONT,
               ticklabelstandoff=40, tickmode="array")
fig.update_layout(
    yaxis=dict(ycommon, range=[-25, 25], tickvals=DISP_TICKS, ticktext=[str(v) for v in DISP_TICKS]),
    yaxis2=dict(ycommon, range=[-6, 8], tickvals=DIL_TICKS, ticktext=[str(v) for v in DIL_TICKS]),
    yaxis3=dict(ycommon, range=[0, 60], tickvals=TILT_GRID, showticklabels=False),
    yaxis4=dict(ycommon, range=[0, 140], tickvals=VLP_TICKS, ticktext=[str(v) for v in VLP_TICKS]),
    yaxis5=dict(ycommon, range=[0, 3.5], tickvals=RHF_TICKS, ticktext=RHF_LABELS),
    yaxis6=dict(range=[0, 7], tickmode="array", tickvals=PIX_TICKS, ticktext=[str(v) for v in PIX_TICKS],
                showgrid=False, zeroline=False, showline=False, ticks="", tickfont=TICKFONT,
                ticklabelstandoff=50),
)

LEG = dict(xanchor="left", yanchor="top", orientation="h", bgcolor="white", bordercolor="#808080",
           borderwidth=2, font=dict(family="Open Sans", size=42, color="#404040"))
fig.update_layout(
    width=W, height=H, margin=dict(l=0, r=0, t=0, b=0, autoexpand=False),
    paper_bgcolor="white", plot_bgcolor="white",
    font=dict(family="Open Sans", color="#404040"),
    barmode="group", bargap=0.15, bargroupgap=0.0,
    legend=dict(LEG, x=PX(325), y=PY(90), entrywidth=200),
    legend2=dict(LEG, x=PX(332), y=PY(783)),
    legend3=dict(LEG, x=PX(356), y=PY(2213), entrywidth=180),
    legend4=dict(LEG, x=PX(346), y=PY(2962), entrywidth=200),
)

# ---------------- shading & event lines ----------------
SH_TOP, SH_BOT = PY(44), PY(3698)
for x0, x1, col in [(YELLOW_START, BLUE_START, "rgba(255,230,153,0.38)"),
                    (BLUE_START, RED_LINE, "rgba(180,199,231,0.45)"),
                    (RED_START, PURPLE_LINE, "rgba(203,67,79,0.25)")]:
    fig.add_shape(type="rect", xref="x", yref="paper", x0=D(x0), x1=D(x1), y0=SH_BOT, y1=SH_TOP,
                  fillcolor=col, line=dict(width=0), layer="above")
for xv, col in [(RED_LINE, "#FF0000"), (PURPLE_LINE, "#7030A0")]:
    fig.add_shape(type="line", xref="x", yref="paper", x0=D(xv), x1=D(xv), y0=PY(3712), y1=PY(44),
                  line=dict(color=col, width=5, dash="28px,12px"), layer="above")

# ---------------- gray caption boxes ----------------
BOXES = [(310, 604, 1109, 706), (302, 1346, 1602, 1449), (1004, 1987, 1666, 2155),
         (323, 2548, 1208, 2652), (323, 3181, 1300, 3428)]
for x0, y0, x1, y1 in BOXES:
    fig.add_shape(type="rect", xref="paper", yref="paper", x0=PX(x0), x1=PX(x1), y0=PY(y1), y1=PY(y0),
                  fillcolor="#E7E6E6", line=dict(width=0), layer="above")

CAPFONT = dict(family="Open Sans", size=52, color="#222A35")
captions = [
    (344, 655, "<b>SPLN station components</b>"),
    (339, 1399, "<b>Areal dilatation of SPLN-STDF-SPLN triangle</b>"),
    (1040, 2072, "<b>X -Y components of<br>PLB and TDF stations</b>"),
    (357, 2600, "<b>VLP events from strainmeter</b>"),
    (357, 3304, "<b>Radiant Heat Flux from satellite<br>data and Cumulative Dispersion<br>(Cd) from SPI camera recordings</b>"),
]
for x, y, txt in captions:
    fig.add_annotation(xref="paper", yref="paper", x=PX(x), y=PY(y), text=txt, showarrow=False,
                       xanchor="left", yanchor="middle", align="left", font=CAPFONT)

# tilt curve labels
LBLFONT = dict(family="Open Sans", size=43, color="#111111")
for x, y, txt in [(1378, 1580, "PLB Radial"), (848, 1691, "PLB Tangential"),
                  (1562, 1859, "TDF N°275°E"), (768, 1926, "TDF N°185°E"),
                  (640, 2097, "10 microrads")]:
    fig.add_annotation(xref="paper", yref="paper", x=PX(x), y=PY(y), text=txt, showarrow=False,
                       xanchor="center", yanchor="middle", font=LBLFONT)

# 10 microrad scale bar
for x0, y0, x1, y1 in [(436, 2044, 436, 2160), (424, 2044, 448, 2044), (424, 2160, 448, 2160)]:
    fig.add_shape(type="line", xref="paper", yref="paper", x0=PX(x0), x1=PX(x1), y0=PY(y0), y1=PY(y1),
                  line=dict(color="#000000", width=6), layer="above")

# axis titles
TFONT = dict(family="DejaVu Sans", size=35, color="#595959")
for x, y, txt, ang in [(126, 416, "Displacement [mm]", -90),
                       (133, 1030, "Areal dilatation [ppm]", -90),
                       (156, 1791, "Tilt [µRad]", -90),
                       (112, 2542, "VLP daily occurrence rate", -90),
                       (119, 3327, "Radiant Heat Flux [GW]", -90),
                       (2768, 3296, "Number of pixels [x10<sup>4</sup>]", 90)]:
    fig.add_annotation(xref="paper", yref="paper", x=PX(x), y=PY(y), text="<b>" + txt + "</b>",
                       textangle=ang, showarrow=False, xanchor="center", yanchor="middle", font=TFONT)

fig.write_html("out.html")
